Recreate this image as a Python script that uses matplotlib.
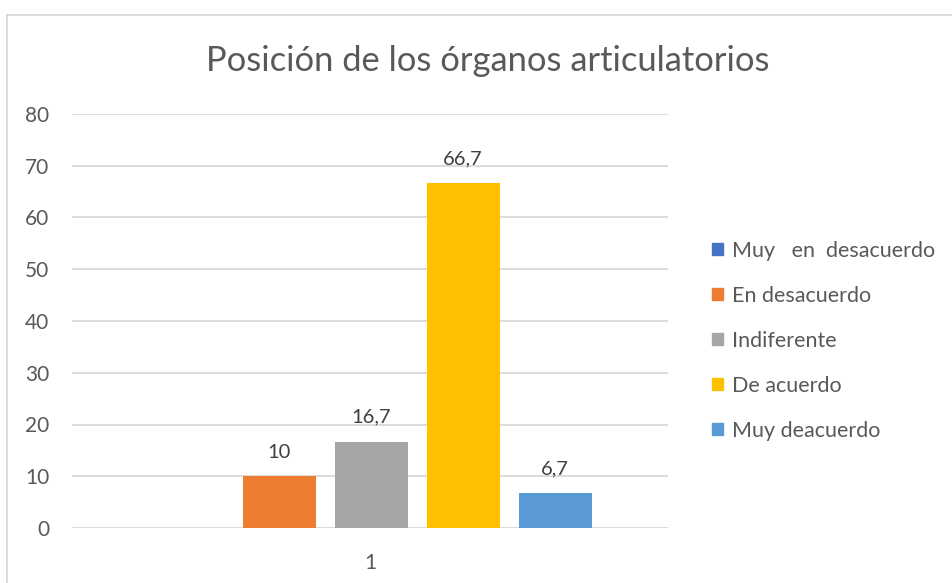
import matplotlib
matplotlib.use("Agg")
import matplotlib.pyplot as plt
from matplotlib.lines import Line2D
import numpy as np

plt.rcParams['font.family'] = ['Lato', 'DejaVu Sans']

title = "Posición de los órganos articulatorios"
categories = ["Muy   en  desacuerdo", "En desacuerdo", "Indiferente", "De acuerdo", "Muy deacuerdo"]
values = [0, 10, 16.7, 66.7, 6.7]
labels = ["", "10", "16,7", "66,7", "6,7"]
colors = ["#4472C4", "#ED7D31", "#A5A5A5", "#FFC000", "#5B9BD5"]
x_tick_labels = ["1"]
y_ticks = [0, 10, 20, 30, 40, 50, 60, 70, 80]

W, H = 953, 583
fig = plt.figure(figsize=(W / 100, H / 100), dpi=100)
ax = fig.add_axes([72 / W, 1 - 528 / H, 596 / W, 414 / H])

step = 92 / 596
width = 73 / 596
offsets = (np.arange(len(values)) - 2) * step + 1 / 596
for off, v, c, lab, cat in zip(offsets, values, colors, labels, categories):
    ax.bar(off, v, width=width, color=c, label=cat, zorder=3)
    if lab:
        ax.annotate(lab, (off, v), xytext=(0, 13.5), textcoords='offset points',
                    ha='center', va='baseline', fontsize=14.5, color='#404040')

ax.set_xlim(-0.5, 0.5)
ax.set_ylim(0, 80)
ax.set_yticks(y_ticks)
ax.set_xticks([0])
ax.set_xticklabels(x_tick_labels)
ax.yaxis.grid(True, color='#D9D9D9', linewidth=1.3, zorder=0)
for s in ax.spines.values():
    s.set_visible(False)
ax.tick_params(axis='both', length=0, labelsize=15, labelcolor='#595959')
ax.tick_params(axis='y', pad=16.5)
ax.tick_params(axis='x', pad=18)
ax.set_axisbelow(True)

fig.text(488 / W, 1 - 61 / H, title, ha='center', va='center', fontsize=24.8, color='#595959')

handles = [plt.Rectangle((0, 0), 1, 1, color=c) for c in colors]
leg = fig.legend(handles, categories, loc='upper left', bbox_to_anchor=(703 / W, 1 - 232 / H),
                 frameon=False, fontsize=15.5, labelcolor='#595959', handlelength=0.52,
                 handleheight=0.52, handletextpad=0.45, labelspacing=1.16, borderaxespad=0)

fig.add_artist(Line2D([7 / W, 952 / W], [1 - 14.5 / H, 1 - 14.5 / H], color='#D9D9D9', linewidth=1.3))
fig.add_artist(Line2D([7.5 / W, 7.5 / W], [0, 1 - 14.5 / H], color='#D9D9D9', linewidth=1.3))

fig.savefig("out.png", dpi=100)
